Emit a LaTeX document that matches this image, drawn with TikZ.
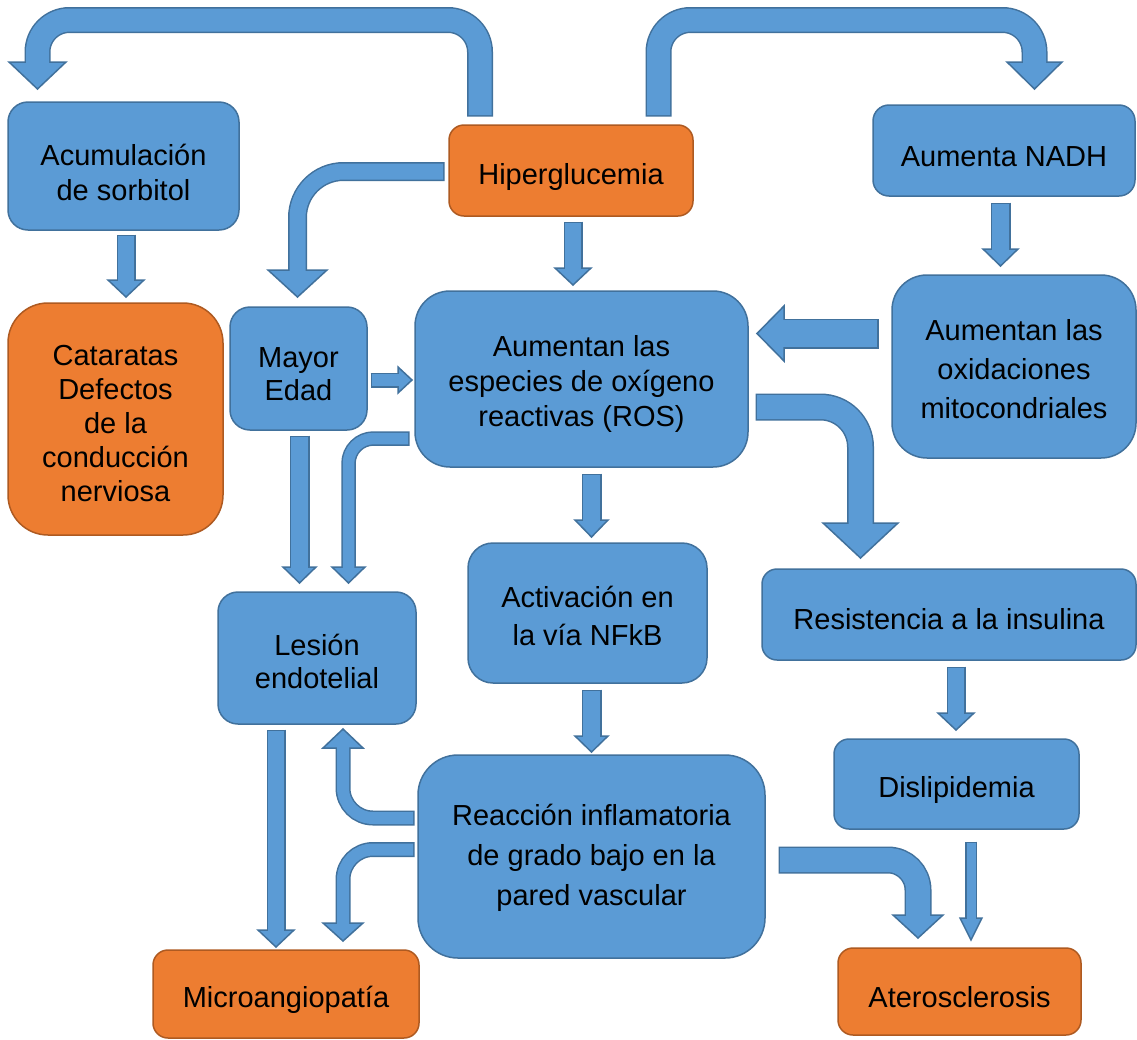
\documentclass[tikz,border=0pt]{standalone}
\usepackage{fontspec}
\setmainfont{Liberation Sans}
\definecolor{bfill}{HTML}{5B9BD5}
\definecolor{bline}{HTML}{41719C}
\definecolor{ofill}{HTML}{ED7D31}
\definecolor{oline}{HTML}{AE5A21}
\tikzset{
 card/.style={draw=bline, fill=bfill, line width=1.5pt, inner sep=0pt},
 ocard/.style={card, draw=oline, fill=ofill},
 tl/.style={align=center, inner sep=0pt, text=black, font=\fontsize{29}{35}\selectfont},
}
% #1 shaft width, #2 corner radius, #3 centre path (tail to head base), #4 #5 #6 head corner, tip, corner
\newcommand\barr[6]{%
 \pgfmathsetmacro\outw{#1+3}%
 \draw[line width=\outw pt, draw=bline, rounded corners=#2pt, shorten <=-1.5pt] #3;
 \filldraw[fill=bfill, draw=bline, line width=1.5pt, line join=miter] #4 -- #5 -- #6 -- cycle;
 \draw[line width=#1pt, draw=bfill, rounded corners=#2pt, shorten >=-2.5pt] #3;
}
\begin{document}
\begin{tikzpicture}[x=1pt, y=-1pt]
\useasboundingbox (0,0) rectangle (1137,1039);
\fill[white] (0,0) rectangle (1137,1039);

% boxes
\node[card, rounded corners=20pt, minimum width=231pt, minimum height=128pt,
  label={[tl, yshift=-6pt]center:{Acumulación\\de sorbitol}}] (sorb) at (123.5,166) {};
\node[ocard, rounded corners=15pt, minimum width=244pt, minimum height=91pt,
  label={[tl, yshift=-6pt]center:{Hiperglucemia}}] (hyper) at (571,170.5) {};
\node[card, rounded corners=16pt, minimum width=262pt, minimum height=91pt,
  label={[tl, yshift=-6pt]center:{Aumenta NADH}}] (nadh) at (1004,150.5) {};
\node[ocard, rounded corners=40pt, minimum width=215pt, minimum height=232pt,
  label={[tl, font=\fontsize{29}{34}\selectfont, yshift=-5pt]center:{Cataratas\\Defectos\\de la\\conducción\\nerviosa}}] (cata) at (115.5,419) {};
\node[card, rounded corners=20pt, minimum width=137pt, minimum height=123pt,
  label={[tl, font=\fontsize{29}{33}\selectfont, yshift=-6pt]center:{Mayor\\Edad}}] (mayor) at (298.5,368.5) {};
\node[card, rounded corners=35pt, minimum width=333pt, minimum height=176pt,
  label={[tl, yshift=-5pt]center:{Aumentan las\\especies de oxígeno\\reactivas (ROS)}}] (ros) at (581.5,379) {};
\node[card, rounded corners=35pt, minimum width=244pt, minimum height=183pt,
  label={[tl, font=\fontsize{29}{39}\selectfont, yshift=-3pt]center:{Aumentan las\\oxidaciones\\mitocondriales}}] (oxid) at (1014,366.5) {};
\node[card, rounded corners=20pt, minimum width=198pt, minimum height=132pt,
  label={[tl, font=\fontsize{29}{33}\selectfont, yshift=-3pt]center:{Lesión\\endotelial}}] (lesion) at (317,658) {};
\node[card, rounded corners=25pt, minimum width=239pt, minimum height=140pt,
  label={[tl, font=\fontsize{29}{38}\selectfont, yshift=-3pt]center:{Activación en\\la vía NFkB}}] (nfkb) at (587.5,613) {};
\node[card, rounded corners=15pt, minimum width=374pt, minimum height=91pt,
  label={[tl, yshift=-5pt]center:{Resistencia a la insulina}}] (resist) at (949,614.5) {};
\node[card, rounded corners=15pt, minimum width=245pt, minimum height=90pt,
  label={[tl, yshift=-6pt]center:{Dislipidemia}}] (disl) at (956.5,784) {};
\node[card, rounded corners=40pt, minimum width=347pt, minimum height=203pt,
  label={[tl, font=\fontsize{29}{40}\selectfont, yshift=-1pt]center:{Reacción inflamatoria\\de grado bajo en la\\pared vascular}}] (reac) at (591.5,856.5) {};
\node[ocard, rounded corners=15pt, minimum width=266pt, minimum height=88pt,
  label={[tl, yshift=-6pt]center:{Microangiopatía}}] (micro) at (286,994) {};
\node[ocard, rounded corners=15pt, minimum width=243pt, minimum height=87pt,
  label={[tl, yshift=-6pt]center:{Aterosclerosis}}] (ath) at (959.5,991.5) {};

% block arrows
\barr{23}{32}{(480,115) -- (480,20) -- (37.5,20) -- (37.5,62)}{(9,62)}{(37.5,89)}{(66,62)}
\barr{23}{32}{(658.5,115) -- (658.5,20) -- (1034.5,20) -- (1034.5,62)}{(1007,62)}{(1034.5,89)}{(1062,62)}
\barr{16}{46}{(443,171.5) -- (297.5,171.5) -- (297.5,270)}{(268,270)}{(297.5,297)}{(327,270)}
\barr{16}{0}{(573,223) -- (573,268)}{(555,268)}{(573,285)}{(591,268)}
\barr{16}{0}{(126,236) -- (126,280)}{(108,280)}{(126,297)}{(144,280)}
\barr{17}{0}{(1000.5,204) -- (1000.5,249)}{(983,249)}{(1000.5,266)}{(1018,249)}
\barr{27}{0}{(877,333.5) -- (784,333.5)}{(784,306)}{(757,333.5)}{(784,361)}
\barr{24}{40}{(757,407) -- (860.5,407) -- (860.5,523)}{(823,523)}{(860.5,558)}{(898,523)}
\barr{12}{0}{(372,380) -- (398,380)}{(398,367)}{(412,380)}{(398,393)}
\barr{17}{0}{(299.5,437) -- (299.5,567)}{(283,567)}{(299.5,583)}{(316,567)}
\barr{11.5}{25}{(408,438.5) -- (348.5,438.5) -- (348.5,567)}{(332,567)}{(348.5,583)}{(365,567)}
\barr{17}{0}{(591.5,475) -- (591.5,520)}{(575,520)}{(591.5,537)}{(608,520)}
\barr{17}{0}{(591.5,691) -- (591.5,736)}{(575,736)}{(591.5,752)}{(608,736)}
\barr{16}{0}{(956,668) -- (956,713)}{(938,713)}{(956,730)}{(974,713)}
\barr{9}{0}{(971,843) -- (971,918)}{(960,918)}{(971,940)}{(982,918)}
\barr{16}{0}{(276,731) -- (276,930)}{(258,930)}{(276,947)}{(294,930)}
\barr{12}{30}{(413,818) -- (343,818) -- (343,748)}{(323,748)}{(343,729)}{(363,748)}
\barr{12}{30}{(413,849.5) -- (343,849.5) -- (343,923)}{(323,923)}{(343,941)}{(363,923)}
\barr{24}{30}{(780,860) -- (918,860) -- (918,915)}{(893,915)}{(918,938)}{(943,915)}
\end{tikzpicture}
\end{document}
